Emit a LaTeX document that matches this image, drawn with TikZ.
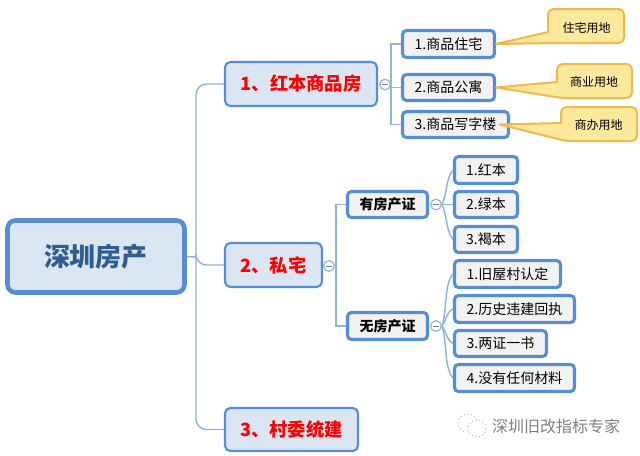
\documentclass[tikz,border=0pt]{standalone}
\usepackage{fontspec}
\setmainfont{Noto Sans CJK SC}
\definecolor{rootfill}{HTML}{DCE6F2}
\definecolor{rootink}{HTML}{2F5D92}
\definecolor{boxline}{HTML}{558ED5}
\definecolor{branchline}{HTML}{8DB4E2}
\definecolor{leaffill}{HTML}{F2F2F2}
\definecolor{notefill}{HTML}{FDE99B}
\definecolor{noteline}{HTML}{F2B84B}
\tikzset{
  wh/.style 2 args={minimum width=#1*0.75pt, minimum height=#2*0.75pt},
  rootbox/.style={draw=boxline, fill=rootfill, line width=3.4pt, rounded corners=6pt, inner sep=0pt, text=rootink, font=\fontsize{19.5}{22}\selectfont\bfseries},
  redbox/.style={draw=boxline, fill=rootfill, line width=1.6pt, rounded corners=4pt, inner sep=0pt, text=red, font=\fontsize{13.7}{16}\selectfont\bfseries},
  subbox/.style={draw=boxline, fill=leaffill, line width=2.3pt, rounded corners=3pt, inner sep=0pt, font=\fontsize{10.5}{13}\selectfont\bfseries},
  leafbox/.style={draw=boxline, fill=leaffill, line width=2.3pt, rounded corners=3pt, inner sep=0pt, font=\fontsize{10.5}{13}\selectfont},
  notebox/.style={draw=noteline, fill=notefill, line width=1.5pt, line join=round},
  notetext/.style={inner sep=0pt, font=\fontsize{9}{11}\selectfont},
  branch/.style={draw=branchline, line width=1.1pt},
  foldmark/.style={circle, draw=branchline, fill=white, line width=0.9pt, minimum size=8pt, inner sep=0pt,
    path picture={\draw[gray, line width=0.6pt] ([xshift=-2pt]path picture bounding box.center) -- ([xshift=2pt]path picture bounding box.center);}},
  logoline/.style={draw=gray!60, line width=0.7pt, dotted},
}
\begin{document}
\begin{tikzpicture}[x=0.75pt,y=-0.75pt]
    \useasboundingbox (0,0) rectangle (640,455);

    % Nodos principales
    \node[rootbox, wh={177}{72}] (root) at (96,256.5) {深圳房产};
    \node[redbox, wh={152}{44}] (red1) at (301,84) {1、红本商品房};
    \node[redbox, wh={97}{44}] (red2) at (273.5,265) {2、私宅};
    \node[redbox, wh={133}{43}] (red3) at (291.5,429.5) {3、村委统建};

    % Hojas de la primera rama
    \node[leafbox, wh={92}{27}] (shop1) at (448.5,44) {1.商品住宅};
    \node[leafbox, wh={92}{26}] (shop2) at (448.5,87.5) {2.商品公寓};
    \node[leafbox, wh={106}{26}] (shop3) at (455.5,124.5) {3.商品写字楼};

    % Rama del medio
    \node[subbox, wh={80}{26}] (deed) at (387.5,204.5) {有房产证};
    \node[subbox, wh={80}{27}] (nodeed) at (387.5,326) {无房产证};
    \node[leafbox, wh={63}{27}] (deed1) at (486,170) {1.红本};
    \node[leafbox, wh={63}{26}] (deed2) at (486,204.5) {2.绿本};
    \node[leafbox, wh={63}{26}] (deed3) at (486,239.5) {3.褐本};
    \node[leafbox, wh={106}{27}] (nodeed1) at (507.5,274) {1.旧屋村认定};
    \node[leafbox, wh={120}{27}] (nodeed2) at (514.5,309) {2.历史违建回执};
    \node[leafbox, wh={92}{26}] (nodeed3) at (500.5,343.5) {3.两证一书};
    \node[leafbox, wh={120}{27}] (nodeed4) at (514.5,378) {4.没有任何材料};

    % Marcas de plegado
    \node[foldmark] (fold1) at (385,84.5) {};
    \node[foldmark] (fold2) at (329,266) {};
    \node[foldmark] (fold3) at (436,204.5) {};
    \node[foldmark] (fold4) at (436,326) {};

    \coordinate (rootjoin) at (196,257);
    \coordinate (join1) at (391,84.5);
    \coordinate (join2) at (336,266);

    % Conectores
    \draw[branch] (root.east) -- (rootjoin);
    \draw[branch, rounded corners=8pt] (red1.west) -| (rootjoin) |- (red3.west);
    \draw[branch, rounded corners=8pt] (rootjoin) |- (red2.west);
    \draw[branch] (fold1.east) -- (join1);
    \draw[branch] (shop1.west) -| (join1) |- (shop3.west);
    \draw[branch] (join1) |- (shop2.west);
    \draw[branch] (fold2.east) -- (join2);
    \draw[branch] (deed.west) -| (join2) |- (nodeed.west);
    \draw[branch] (fold3.east) .. controls (447,194) and (446,178) .. (deed1.west);
    \draw[branch] (fold3.east) -- (deed2.west);
    \draw[branch] (fold3.east) .. controls (447,215) and (446,231) .. (deed3.west);
    \draw[branch] (fold4.east) .. controls (447,312) and (444,284) .. (nodeed1.west);
    \draw[branch] (fold4.east) .. controls (446,322) and (446,312) .. (nodeed2.west);
    \draw[branch] (fold4.east) .. controls (446,330) and (446,340) .. (nodeed3.west);
    \draw[branch] (fold4.east) .. controls (447,340) and (444,368) .. (nodeed4.west);

    % Notas amarillas
    \draw[notebox, rounded corners=4pt] (548,32) -- (548,9) -- (624,9) -- (624,43) -- (553,43) [sharp corners] -- (shop1.east) -- cycle;
    \node[notetext] (note1) at (586.5,28) {住宅用地};
    \draw[notebox, rounded corners=4pt] (557,82) -- (557,64) -- (632,64) -- (632,98) -- (562,98) [sharp corners] -- (shop2.east) -- cycle;
    \node[notetext] (note2) at (594,82) {商业用地};
    \draw[notebox, rounded corners=4pt] (561,123) -- (561,107) -- (637,107) -- (637,141) -- (566,141) [sharp corners] -- ([xshift=-7.5pt]shop3.east) -- cycle;
    \node[notetext] (note3) at (598.5,125) {商办用地};

    % Marca de agua
    \draw[logoline] (467.5,423) ellipse (9.5 and 9);
    \draw[logoline, fill=white] (477,428.5) ellipse (9 and 8.5);
    \node[inner sep=0pt, text=gray, font=\fontsize{12}{14}\selectfont] (mark) at (556,426.5) {深圳旧改指标专家};
\end{tikzpicture}
\end{document}
